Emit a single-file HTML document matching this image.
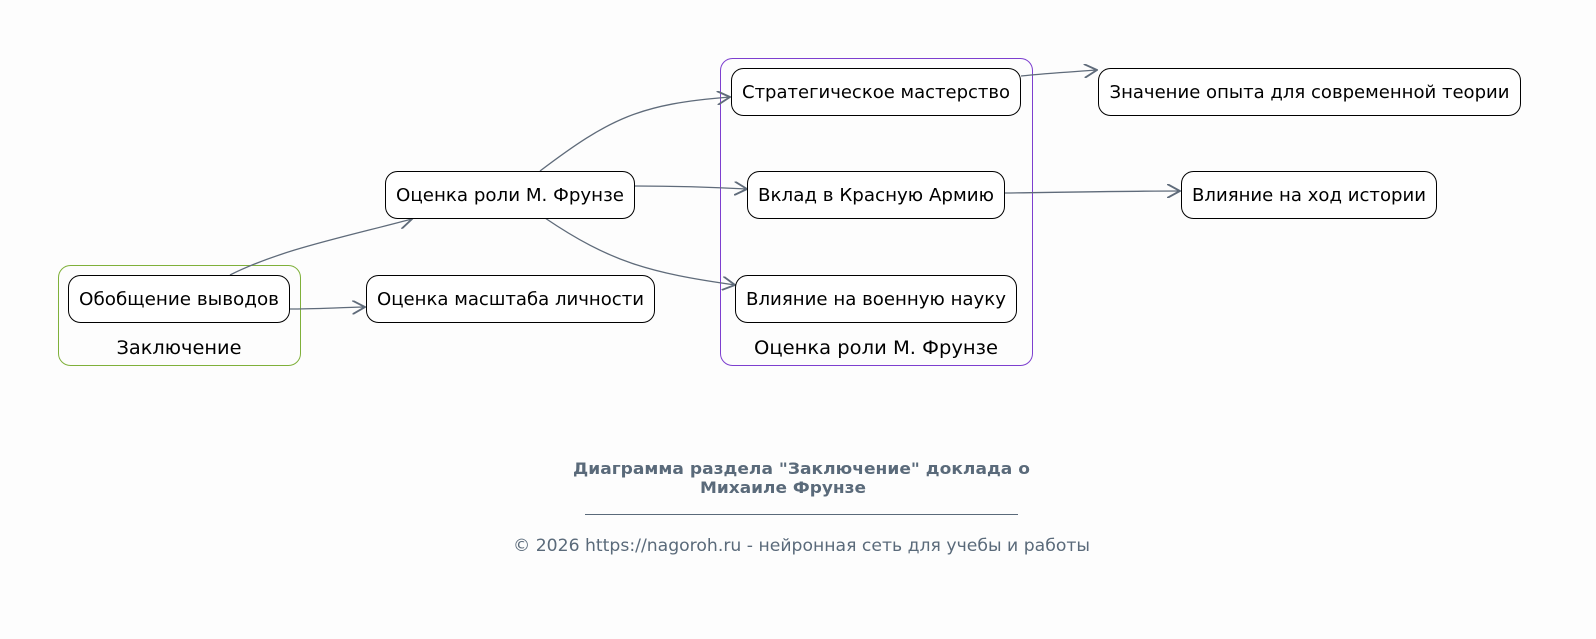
<!DOCTYPE html>
<html><head><meta charset="utf-8"><style>
html,body{margin:0;padding:0;background:#fdfdfd;}
svg{display:block;}
text{font-family:"DejaVu Sans","Liberation Sans",sans-serif;}
</style></head><body>
<svg width="1596" height="639" viewBox="0 0 1596 639" xmlns="http://www.w3.org/2000/svg">
<rect width="1596" height="639" fill="#fdfdfd"/>
<defs>
<marker id="a" viewBox="0 0 12 12" refX="11" refY="6" markerWidth="14" markerHeight="14" markerUnits="userSpaceOnUse" orient="auto">
<path d="M0,0 L11,6 L0,12" fill="none" stroke="#5f6b7a" stroke-width="1.6"/>
</marker>
</defs>
<rect x="58.5" y="265.5" width="242" height="100" rx="12" fill="none" stroke="#7fb03a" stroke-width="1"/>
<text x="179" y="354" font-size="19" text-anchor="middle" fill="#000" textLength="125" lengthAdjust="spacingAndGlyphs">Заключение</text>
<rect x="720.5" y="58.5" width="312" height="307" rx="12" fill="none" stroke="#7d3fcf" stroke-width="1"/>
<text x="876" y="354" font-size="19" text-anchor="middle" fill="#000" textLength="244" lengthAdjust="spacingAndGlyphs">Оценка роли М. Фрунзе</text>
<g fill="none" stroke="#5f6b7a" stroke-width="1.3" marker-end="url(#a)">
<path d="M230,275 C280,250 340,238 412,219"/>
<path d="M290,309 C310,309 330,308 365,307"/>
<path d="M540,171 C610,118 640,104 730,97"/>
<path d="M635,186 C680,186 710,187 747,189"/>
<path d="M545,218 C610,262 650,273 735,285"/>
<path d="M1021,76 C1050,73 1070,72 1097,70"/>
<path d="M1005,193 C1090,192 1130,191 1180,191"/>
</g>
<g fill="#fff" stroke="#000" stroke-width="1">
<rect x="68.5" y="275.5" width="221" height="47" rx="12"/>
<rect x="366.5" y="275.5" width="288" height="47" rx="12"/>
<rect x="385.5" y="171.5" width="249" height="47" rx="12"/>
<rect x="731.5" y="68.5" width="289" height="47" rx="12"/>
<rect x="747.5" y="171.5" width="257" height="47" rx="12"/>
<rect x="735.5" y="275.5" width="281" height="47" rx="12"/>
<rect x="1098.5" y="68.5" width="422" height="47" rx="12"/>
<rect x="1181.5" y="171.5" width="255" height="47" rx="12"/>
</g>
<g font-size="18" fill="#000" text-anchor="middle" lengthAdjust="spacingAndGlyphs">
<text x="179" y="305" textLength="200" lengthAdjust="spacingAndGlyphs">Обобщение выводов</text>
<text x="510.5" y="305" textLength="267" lengthAdjust="spacingAndGlyphs">Оценка масштаба личности</text>
<text x="510" y="201" textLength="228" lengthAdjust="spacingAndGlyphs">Оценка роли М. Фрунзе</text>
<text x="876" y="98" textLength="268" lengthAdjust="spacingAndGlyphs">Стратегическое мастерство</text>
<text x="876" y="201" textLength="236" lengthAdjust="spacingAndGlyphs">Вклад в Красную Армию</text>
<text x="876" y="305" textLength="260" lengthAdjust="spacingAndGlyphs">Влияние на военную науку</text>
<text x="1309.5" y="98" textLength="400" lengthAdjust="spacingAndGlyphs">Значение опыта для современной теории</text>
<text x="1309" y="201" textLength="234" lengthAdjust="spacingAndGlyphs">Влияние на ход истории</text>
</g>
<g fill="#5a6a7a" text-anchor="middle">
<text x="801.5" y="474" font-size="16" font-weight="bold" textLength="457" lengthAdjust="spacingAndGlyphs">Диаграмма раздела "Заключение" доклада о</text>
<text x="783" y="493" font-size="16" font-weight="bold" textLength="166" lengthAdjust="spacingAndGlyphs">Михаиле Фрунзе</text>
<line x1="585" y1="514.5" x2="1018" y2="514.5" stroke="#5a6a7a" stroke-width="1"/>
<text x="801.5" y="551" font-size="17" textLength="577" lengthAdjust="spacingAndGlyphs">© 2026 https://nagoroh.ru - нейронная сеть для учебы и работы</text>
</g>
</svg>
</body></html>
